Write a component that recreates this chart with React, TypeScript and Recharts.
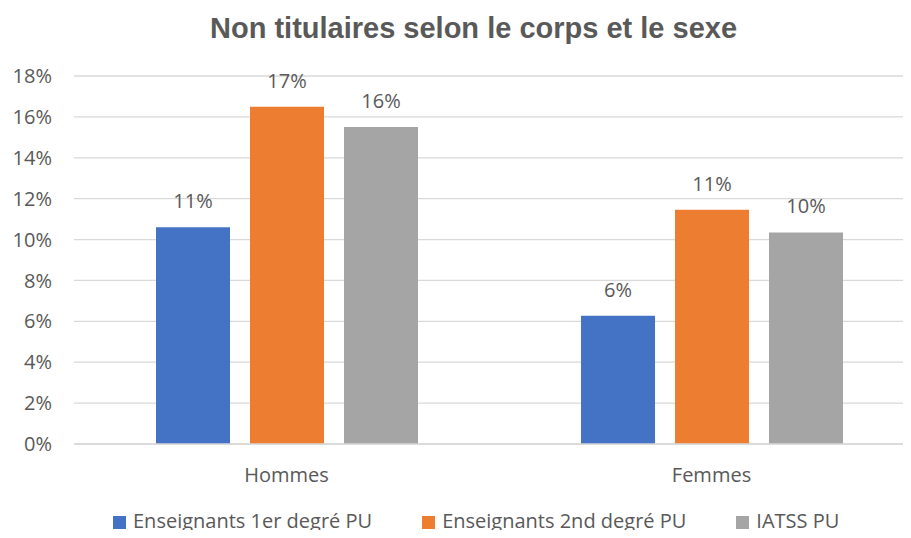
import React from "react";
import { BarChart, Bar, XAxis, YAxis, CartesianGrid, Legend, LabelList } from "recharts";

const categories = ["Hommes", "Femmes"];
const enseignants1er = [10.6, 6.27];
const enseignants2nd = [16.5, 11.46];
const iatss = [15.5, 10.35];
const yTicks = [0, 2, 4, 6, 8, 10, 12, 14, 16, 18];
const seriesNames = ["Enseignants 1er degré PU", "Enseignants 2nd degré PU", "IATSS PU"];

const data = categories.map((c, i) => ({
  name: c,
  s1: enseignants1er[i],
  s2: enseignants2nd[i],
  s3: iatss[i],
}));

const FONT = "'Open Sans', 'Noto Sans', sans-serif";
const TXT = "#595959";
const FS = 20;
const fmt = (v: any) => `${Math.round(Number(v))}%`;

export default function App() {
  return (
    <div style={{ position: "relative", width: 911, height: 538, overflow: "hidden", margin: -8, background: "#fff" }}>
      <div
        style={{
          position: "absolute",
          top: 11,
          left: 18,
          width: 911,
          textAlign: "center",
          fontFamily: "'Liberation Sans', Arial, sans-serif",
          fontWeight: "bold",
          fontSize: 29,
          lineHeight: "34px",
          color: TXT,
        }}
      >
        Non titulaires selon le corps et le sexe
      </div>
      <BarChart
        width={940}
        height={538}
        data={data}
        margin={{ top: 76, right: 16, bottom: 20, left: 0 }}
        barSize={74}
        barGap={20}
      >
        <CartesianGrid vertical={false} stroke="#d9d9d9" strokeWidth={1.3} />
        <XAxis
          dataKey="name"
          tickLine={false}
          axisLine={{ stroke: "#d9d9d9", strokeWidth: 1.3 }}
          tickSize={0}
          tickMargin={24}
          height={50}
          tick={{ fill: TXT, fontSize: FS, fontFamily: FONT }}
        />
        <YAxis
          domain={[0, 18]}
          ticks={yTicks}
          tickFormatter={(v) => `${v}%`}
          tickLine={false}
          axisLine={false}
          tickSize={0}
          tickMargin={22}
          width={74}
          tick={{ fill: TXT, fontSize: FS, fontFamily: FONT }}
        />
        <Legend
          verticalAlign="bottom"
          align="left"
          iconType="square"
          iconSize={13}
          wrapperStyle={{ fontFamily: FONT, fontSize: FS, color: TXT, left: 113, width: 790, bottom: 5, lineHeight: "24px" }}
          formatter={(value) => <span style={{ color: TXT, marginLeft: 3, marginRight: 40 }}>{value}</span>}
        />
        <Bar dataKey="s1" name={seriesNames[0]} fill="#4472C4" isAnimationActive={false}>
          <LabelList dataKey="s1" position="top" offset={19} formatter={fmt} fill={TXT} fontSize={FS} fontFamily={FONT} />
        </Bar>
        <Bar dataKey="s2" name={seriesNames[1]} fill="#ED7D31" isAnimationActive={false}>
          <LabelList dataKey="s2" position="top" offset={19} formatter={fmt} fill={TXT} fontSize={FS} fontFamily={FONT} />
        </Bar>
        <Bar dataKey="s3" name={seriesNames[2]} fill="#A5A5A5" isAnimationActive={false}>
          <LabelList dataKey="s3" position="top" offset={19} formatter={fmt} fill={TXT} fontSize={FS} fontFamily={FONT} />
        </Bar>
      </BarChart>
    </div>
  );
}
